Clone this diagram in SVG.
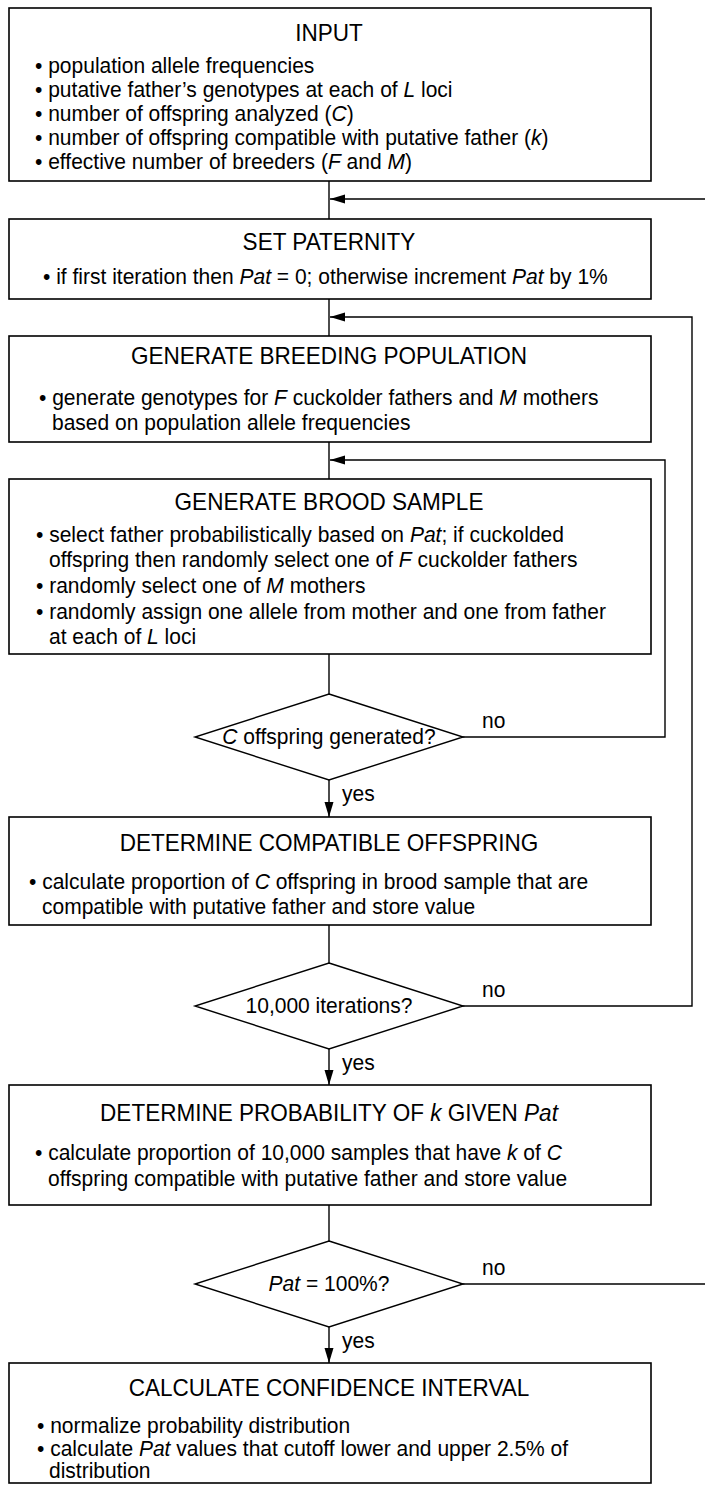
<svg xmlns="http://www.w3.org/2000/svg" width="705" height="1485" viewBox="0 0 705 1485">
<style>
.box{fill:#fff;stroke:#000;stroke-width:1.6}
.dia{fill:#fff;stroke:#000;stroke-width:1.4}
.ln{fill:none;stroke:#000;stroke-width:1.4}
text{font-family:"Liberation Sans",Arial,sans-serif;fill:#000}
.t{font-size:24.5px;text-anchor:middle}
.b{font-size:22px}
.c{font-size:22px;text-anchor:middle}
.i{font-style:italic}
</style>
<defs>
<marker id="ah" markerUnits="userSpaceOnUse" markerWidth="16" markerHeight="10" refX="15" refY="4.5" orient="auto">
<path d="M0,0 L15,4.5 L0,9 z" fill="#000"/>
</marker>
</defs>
<rect width="705" height="1485" fill="#fff"/>
<g id="connectors">
<line class="ln" x1="329" y1="181" x2="329" y2="219"/>
<line class="ln" x1="705" y1="199" x2="330" y2="199" marker-end="url(#ah)"/>
<line class="ln" x1="329" y1="299" x2="329" y2="336"/>
<path class="ln" d="M462,1006 H692 V317 H330" marker-end="url(#ah)"/>
<line class="ln" x1="329" y1="442" x2="329" y2="479"/>
<path class="ln" d="M462,737 H665 V460 H330" marker-end="url(#ah)"/>
<line class="ln" x1="329" y1="654" x2="329" y2="694"/>
<line class="ln" x1="329" y1="780" x2="329" y2="817" marker-end="url(#ah)"/>
<line class="ln" x1="329" y1="925" x2="329" y2="963"/>
<line class="ln" x1="329" y1="1049" x2="329" y2="1085" marker-end="url(#ah)"/>
<line class="ln" x1="329" y1="1205" x2="329" y2="1241"/>
<line class="ln" x1="329" y1="1327" x2="329" y2="1363" marker-end="url(#ah)"/>
<line class="ln" x1="462" y1="1284" x2="705" y2="1284"/>
<text class="b" transform="translate(482,728) scale(.955,1)">no</text>
<text class="b" transform="translate(342,801) scale(.955,1)">yes</text>
<text class="b" transform="translate(482,997) scale(.955,1)">no</text>
<text class="b" transform="translate(342,1070) scale(.955,1)">yes</text>
<text class="b" transform="translate(482,1275) scale(.955,1)">no</text>
<text class="b" transform="translate(342,1348) scale(.955,1)">yes</text>
</g>
<g id="input">
<rect class="box" x="9" y="8" width="642" height="173"/>
<text class="t" transform="translate(329,41) scale(.92,1)">INPUT</text>
<text class="b" transform="translate(35,73) scale(.955,1)">• population allele frequencies</text>
<text class="b" transform="translate(35,97) scale(.955,1)">• putative father’s genotypes at each of <tspan class="i">L</tspan> loci</text>
<text class="b" transform="translate(35,121) scale(.955,1)">• number of offspring analyzed (<tspan class="i">C</tspan>)</text>
<text class="b" transform="translate(35,145) scale(.955,1)">• number of offspring compatible with putative father (<tspan class="i">k</tspan>)</text>
<text class="b" transform="translate(35,169) scale(.955,1)">• effective number of breeders (<tspan class="i">F</tspan> and <tspan class="i">M</tspan>)</text>
</g>
<g id="set-paternity">
<rect class="box" x="9" y="219" width="642" height="80"/>
<text class="t" transform="translate(329,250) scale(.92,1)">SET PATERNITY</text>
<text class="b" transform="translate(43,284) scale(.955,1)">• if first iteration then <tspan class="i">Pat</tspan> = 0; otherwise increment <tspan class="i">Pat</tspan> by 1%</text>
</g>
<g id="breeding-population">
<rect class="box" x="9" y="336" width="642" height="106"/>
<text class="t" transform="translate(329,364) scale(.92,1)">GENERATE BREEDING POPULATION</text>
<text class="b" transform="translate(39,405) scale(.955,1)">• generate genotypes for <tspan class="i">F</tspan> cuckolder fathers and <tspan class="i">M</tspan> mothers</text>
<text class="b" transform="translate(52,430) scale(.955,1)">based on population allele frequencies</text>
</g>
<g id="brood-sample">
<rect class="box" x="9" y="479" width="642" height="175"/>
<text class="t" transform="translate(329,510) scale(.92,1)">GENERATE BROOD SAMPLE</text>
<text class="b" transform="translate(36,542) scale(.955,1)">• select father probabilistically based on <tspan class="i">Pat</tspan>; if cuckolded</text>
<text class="b" transform="translate(49,567) scale(.955,1)">offspring then randomly select one of <tspan class="i">F</tspan> cuckolder fathers</text>
<text class="b" transform="translate(36,593) scale(.955,1)">• randomly select one of <tspan class="i">M</tspan> mothers</text>
<text class="b" transform="translate(36,619) scale(.955,1)">• randomly assign one allele from mother and one from father</text>
<text class="b" transform="translate(49,644) scale(.955,1)">at each of <tspan class="i">L</tspan> loci</text>
</g>
<g id="c-offspring">
<polygon class="dia" points="329,694 463,737 329,780 195,737"/>
<text class="c" transform="translate(329,744) scale(.955,1)"><tspan class="i">C</tspan> offspring generated?</text>
</g>
<g id="compatible-offspring">
<rect class="box" x="9" y="817" width="642" height="108"/>
<text class="t" transform="translate(329,851) scale(.92,1)">DETERMINE COMPATIBLE OFFSPRING</text>
<text class="b" transform="translate(29,889) scale(.955,1)">• calculate proportion of <tspan class="i">C</tspan> offspring in brood sample that are</text>
<text class="b" transform="translate(42,914) scale(.955,1)">compatible with putative father and store value</text>
</g>
<g id="iterations">
<polygon class="dia" points="329,963 463,1006 329,1049 195,1006"/>
<text class="c" transform="translate(329,1013) scale(.955,1)">10,000 iterations?</text>
</g>
<g id="probability">
<rect class="box" x="9" y="1085" width="642" height="120"/>
<text class="t" transform="translate(329,1121) scale(.92,1)">DETERMINE PROBABILITY OF <tspan class="i">k</tspan> GIVEN <tspan class="i">Pat</tspan></text>
<text class="b" transform="translate(35,1160) scale(.955,1)">• calculate proportion of 10,000 samples that have <tspan class="i">k</tspan> of <tspan class="i">C</tspan></text>
<text class="b" transform="translate(48,1186) scale(.955,1)">offspring compatible with putative father and store value</text>
</g>
<g id="pat-100">
<polygon class="dia" points="329,1241 463,1284 329,1327 195,1284"/>
<text class="c" transform="translate(329,1291) scale(.955,1)"><tspan class="i">Pat</tspan> = 100%?</text>
</g>
<g id="confidence-interval">
<rect class="box" x="9" y="1363" width="642" height="120"/>
<text class="t" transform="translate(329,1396) scale(.92,1)">CALCULATE CONFIDENCE INTERVAL</text>
<text class="b" transform="translate(37,1433) scale(.955,1)">• normalize probability distribution</text>
<text class="b" transform="translate(37,1456) scale(.955,1)">• calculate <tspan class="i">Pat</tspan> values that cutoff lower and upper 2.5% of</text>
<text class="b" transform="translate(49,1478) scale(.955,1)">distribution</text>
</g>
</svg>
